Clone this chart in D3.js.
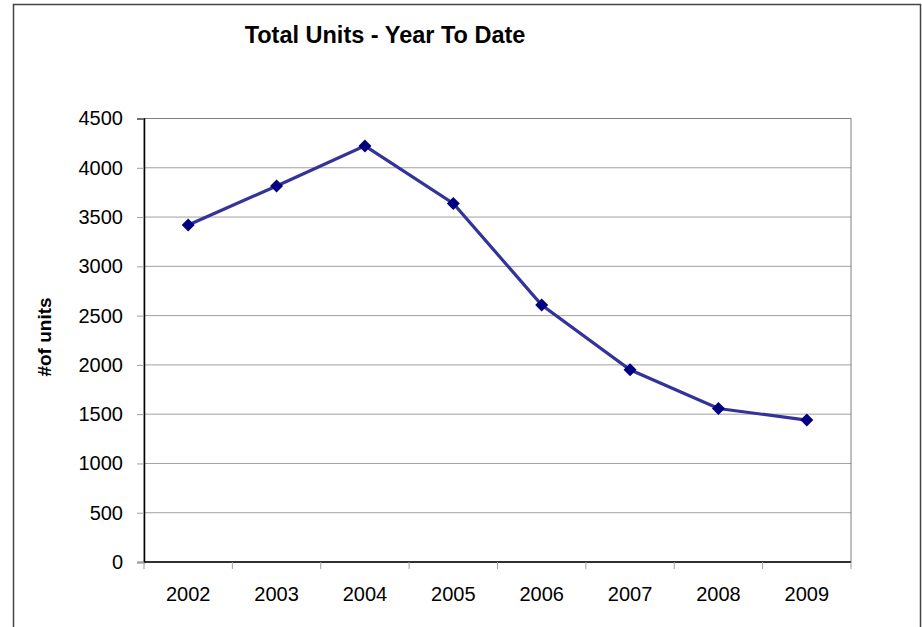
<!DOCTYPE html>
<html>
<head>
<meta charset="utf-8">
<script src="https://cdn.jsdelivr.net/npm/d3@7"></script>
<style>
  body { margin: 0; background: #fff; }
  text { font-family: "Liberation Sans", Arial, sans-serif; }
</style>
</head>
<body>
<svg id="chart"></svg>
<script>
// dati
var anni = ["2002", "2003", "2004", "2005", "2006", "2007", "2008", "2009"];
var unita = [3420, 3815, 4222, 3638, 2608, 1950, 1557, 1440];
var tickY = [0, 500, 1000, 1500, 2000, 2500, 3000, 3500, 4000, 4500];

var w = 922, h = 627;
var margin = { top: 118.5, right: 71, bottom: 65, left: 144 };
var innerW = w - margin.left - margin.right;
var innerH = h - margin.top - margin.bottom;

var svg = d3.select("#chart").attr("width", w).attr("height", h);

// bordo esterno
svg.append("rect")
  .attr("x", 13.5).attr("y", 4.5)
  .attr("width", 907).attr("height", 640)
  .attr("fill", "none").attr("stroke", "#444").attr("stroke-width", 1.5);

var xScale = d3.scaleBand().domain(anni).range([0, innerW]);
var yScale = d3.scaleLinear().domain([0, 4500]).range([innerH, 0]);

var g = svg.append("g")
  .attr("transform", "translate(" + margin.left + "," + margin.top + ")");

// griglia orizzontale
g.selectAll(".grid").data(tickY.slice(1)).enter()
  .append("line")
  .attr("x1", 0).attr("x2", innerW)
  .attr("y1", function(d) { return yScale(d); })
  .attr("y2", function(d) { return yScale(d); })
  .attr("stroke", "#a0a0a0").attr("stroke-width", 1);

// cornice area del grafico
g.append("rect")
  .attr("width", innerW).attr("height", innerH)
  .attr("fill", "none").attr("stroke", "#808080").attr("stroke-width", 1);

// asse y
var assey = g.append("g")
  .call(d3.axisLeft(yScale).tickValues(tickY).tickFormat(d3.format("d"))
    .tickSize(7).tickPadding(14));
assey.select(".domain").attr("stroke", "#000").attr("stroke-width", 1.5);
assey.selectAll(".tick line").attr("stroke", "#a0a0a0");
assey.selectAll(".tick text")
  .style("font-size", "20px").attr("fill", "#000")
  .style("font-family", "'Liberation Sans', Arial, sans-serif");

// asse x: tacche sui bordi delle categorie
var assex = g.append("g").attr("transform", "translate(0," + innerH + ")");
assex.append("line")
  .attr("x1", 0).attr("x2", innerW)
  .attr("stroke", "#000").attr("stroke-width", 1.5);
var bordi = anni.map(function(d) { return xScale(d); }).concat([innerW]);
assex.selectAll(".tk").data(bordi).enter()
  .append("line")
  .attr("x1", function(d) { return d; }).attr("x2", function(d) { return d; })
  .attr("y1", 0).attr("y2", 7)
  .attr("stroke", "#a0a0a0");
assex.selectAll(".lab").data(anni).enter()
  .append("text")
  .attr("x", function(d) { return xScale(d) + xScale.bandwidth() / 2; })
  .attr("y", 39)
  .attr("text-anchor", "middle")
  .style("font-size", "20px")
  .text(function(d) { return d; });

// linea
var linea = d3.line()
  .x(function(d, i) { return xScale(anni[i]) + xScale.bandwidth() / 2; })
  .y(function(d) { return yScale(d); });

g.append("path")
  .datum(unita)
  .attr("d", linea)
  .attr("fill", "none")
  .attr("stroke", "#333399")
  .attr("stroke-width", 3.2);

// marcatori a rombo
g.selectAll(".pt").data(unita).enter()
  .append("path")
  .attr("d", "M0,-6.5L6.5,0L0,6.5L-6.5,0Z")
  .attr("transform", function(d, i) {
    return "translate(" + (xScale(anni[i]) + xScale.bandwidth() / 2) + "," + yScale(d) + ")";
  })
  .attr("fill", "#000080");

// titolo
svg.append("text")
  .attr("x", 385).attr("y", 43)
  .attr("text-anchor", "middle")
  .style("font-size", "23.5px").style("font-weight", "bold")
  .text("Total Units - Year To Date");

// etichetta asse y
svg.append("text")
  .attr("transform", "translate(51," + 337 + ") rotate(-90)")
  .attr("text-anchor", "middle")
  .style("font-size", "19px").style("font-weight", "bold")
  .text("#of units");
</script>
</body>
</html>
